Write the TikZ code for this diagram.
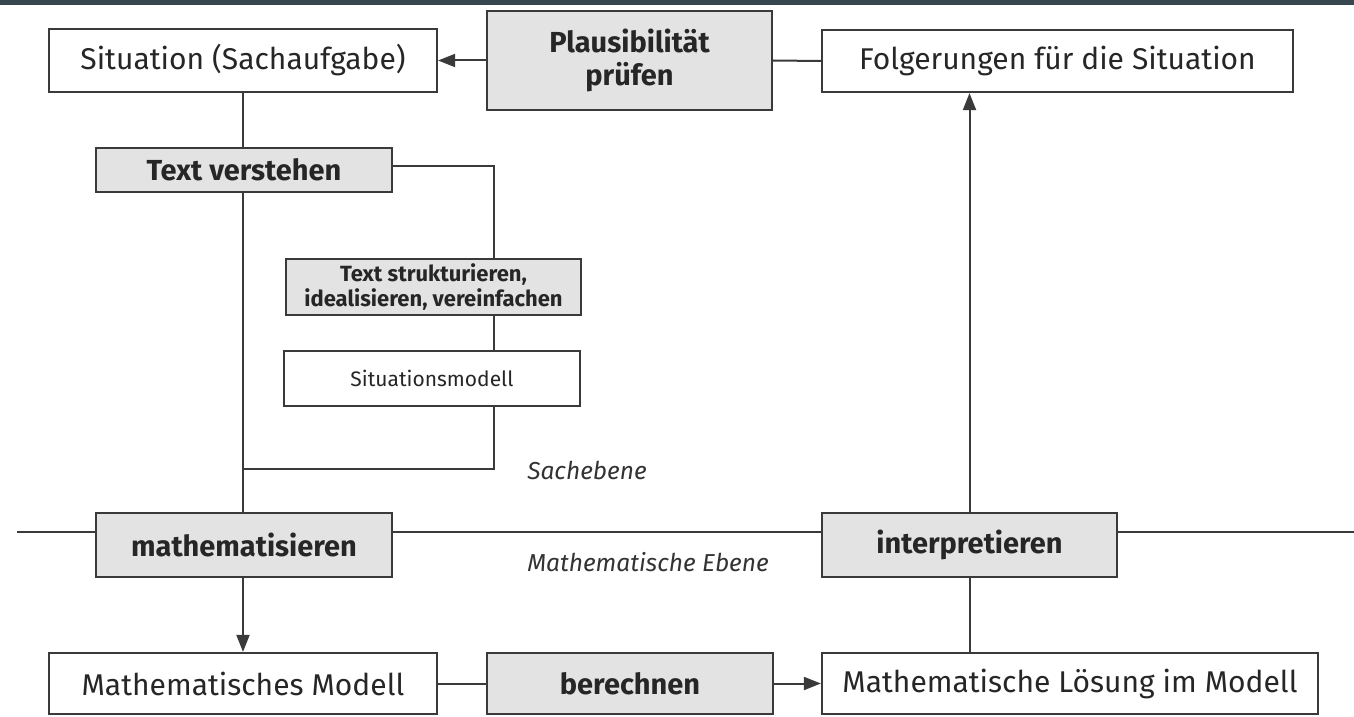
\documentclass[tikz,border=0pt]{standalone}
\usepackage{fontspec}
\setmainfont{Fira Sans}
\usetikzlibrary{arrows.meta,backgrounds}
\definecolor{barcol}{HTML}{36474F}
\definecolor{boxgray}{HTML}{E3E3E3}
\definecolor{linecol}{HTML}{3A3A3A}
\tikzset{
  box/.style={draw=linecol, line width=2.2pt, fill=white, inner sep=0pt, align=center, text=black!85},
  graybox/.style={box, fill=boxgray, font=\fontsize{29}{33}\selectfont\bfseries},
  whitebox/.style={box, font=\fontsize{30}{34}\selectfont},
  conn/.style={draw=linecol, line width=2pt},
  arr/.style={conn, -{Triangle[length=17pt,width=13pt]}},
  level/.style={font=\fontsize{24.5}{28}\selectfont\itshape, text=black!80}
}
\begin{document}
\begin{tikzpicture}[x=1pt,y=-1pt]
\useasboundingbox (0,0) rectangle (1354,717);
% boxes
\node[whitebox, minimum width=388pt, minimum height=63pt] (sit) at (243,60.5) {Situation (Sachaufgabe)};
\node[graybox, minimum width=285pt, minimum height=99pt] (plaus) at (629.5,60.5) {Plausibilität\\prüfen};
\node[whitebox, minimum width=471pt, minimum height=62pt] (folg) at (1057.5,61) {Folgerungen für die Situation};
\node[graybox, minimum width=296pt, minimum height=44pt] (textv) at (244,170) {Text verstehen};
\node[graybox, minimum width=295pt, minimum height=56pt, font=\fontsize{22}{25}\selectfont\bfseries] (struk) at (433.5,287) {Text strukturieren,\\idealisieren, vereinfachen};
\node[whitebox, minimum width=296pt, minimum height=55pt, font=\fontsize{21}{24}\selectfont] (smod) at (432,378.5) {Situationsmodell};
\node[graybox, minimum width=296pt, minimum height=64pt] (mathe) at (244,545) {mathematisieren};
\node[graybox, minimum width=295pt, minimum height=64pt] (interp) at (969.5,545) {interpretieren};
\node[whitebox, minimum width=388pt, minimum height=61pt] (mmod) at (243,683.5) {Mathematisches Modell};
\node[graybox, minimum width=286pt, minimum height=61pt] (ber) at (630,683.5) {berechnen};
\node[whitebox, minimum width=496pt, minimum height=61pt] (mlos) at (1070,683.5) {Mathematische Lösung im Modell};
% level labels
\node[level] (sach) at (587,470) {Sachebene};
\node[level] (mebene) at (648,562) {Mathematische Ebene};
% helper coordinates
\coordinate (lvlL) at (17,532);
\coordinate (lvlR) at (1354,532);
\coordinate (j1) at (494,166);
\coordinate (j2) at (494,469);
\coordinate (j3) at (243,469);
\begin{scope}[on background layer]
\fill[white] (0,0) rectangle (1354,717);
\fill[barcol] (0,0) rectangle (1354,5);
\draw[conn] (lvlL) -- (lvlR);
\draw[conn] (sit.south) -- (mathe.north -| sit.south);
\draw[conn] (textv.east |- j1) -- (j1) -- (struk.north -| j1);
\draw[conn] (struk.south -| j1) -- (smod.north -| j1);
\draw[conn] (smod.south -| j1) -- (j2) -- (j3);
\end{scope}
\draw[arr] (plaus.west) -- (sit.east);
\draw[conn] (plaus.east) -- (folg.west);
\draw[arr] (mathe.south -| sit.south) -- (mmod.north -| sit.south);
\draw[conn] (mmod.east) -- (ber.west);
\draw[arr] (ber.east) -- (mlos.west);
\draw[conn] (interp.south) -- (interp.south |- mlos.north);
\draw[arr] (interp.north) -- (interp.north |- folg.south);
\end{tikzpicture}
\end{document}
